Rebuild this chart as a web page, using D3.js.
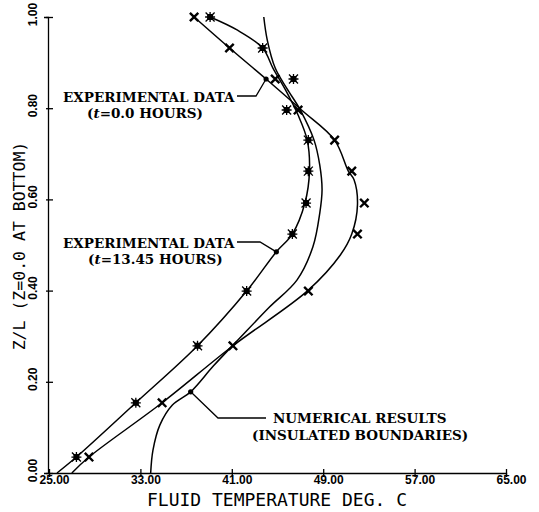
<!DOCTYPE html>
<html>
<head>
<meta charset="utf-8">
<script src="https://cdn.jsdelivr.net/npm/d3@7"></script>
<style>
  html, body { margin: 0; padding: 0; background: #fff; }
  .ann { font-family: "DejaVu Serif", "Liberation Serif", serif; font-weight: bold; font-size: 13.5px; }
  .tick text { font-family: "Liberation Sans", Arial, sans-serif; font-weight: bold; font-size: 12px; }
  .title { font-family: "DejaVu Sans Mono", monospace; }
</style>
</head>
<body>
<svg id="chart" width="539" height="512"></svg>
<script>
// axis ticks
const xTicks = [25, 33, 41, 49, 57, 65];
const yTicks = [0, 0.2, 0.4, 0.6, 0.8, 1.0];

// sensor heights (Z/L) of the measured points
const zLevels = [0.035, 0.154, 0.279, 0.399, 0.524, 0.592, 0.662, 0.730, 0.796, 0.864, 0.932, 1.0];
// measured temperatures, t = 0.0 hours (x markers)
const temp0 = [28.5, 34.9, 41.1, 47.7, 52.0, 52.6, 51.5, 50.0, 46.8, 44.8, 40.8, 37.7];
// measured temperatures, t = 13.45 hours (star markers)
const temp13 = [27.4, 32.6, 38.0, 42.3, 46.3, 47.5, 47.7, 47.7, 45.8, 46.4, 43.7, 39.1];

// smooth curves drawn through the data: [temp, z]
const fit0 = [[27.0, 0], [28.5, 0.035], [34.9, 0.154], [41.1, 0.279], [47.7, 0.401], [50.5, 0.478],
  [51.5, 0.524], [52.0, 0.588], [51.7, 0.643], [51.2, 0.662], [50.0, 0.730], [47.1, 0.796],
  [44.0, 0.864], [40.8, 0.932], [37.7, 1.0]];
const fit13 = [[25.7, 0], [27.4, 0.035], [32.6, 0.154], [38.0, 0.279], [42.3, 0.399], [44.9, 0.485],
  [46.3, 0.524], [47.4, 0.592], [47.8, 0.662], [47.6, 0.730], [46.8, 0.785], [45.7, 0.840],
  [44.6, 0.888], [43.7, 0.932], [41.5, 0.971], [39.1, 1.0]];
const numerical = [[33.9, 0], [34.1, 0.05], [34.7, 0.105], [35.8, 0.149], [37.4, 0.178], [39.4, 0.235],
  [41.7, 0.296], [44.3, 0.364], [46.7, 0.423], [48.1, 0.496], [48.7, 0.570], [48.9, 0.621],
  [48.7, 0.675], [48.2, 0.730], [47.0, 0.796], [45.8, 0.844], [44.8, 0.888], [44.1, 0.950], [43.8, 1.0]];

const svg = d3.select('#chart');
const x = d3.scaleLinear().domain([25, 65]).range([49, 506]);
const y = d3.scaleLinear().domain([0, 1]).range([473, 17]);

// axes
const xAxis = svg.append('g')
  .attr('transform', `translate(0,${y(0)})`)
  .call(d3.axisBottom(x).tickValues(xTicks).tickSizeOuter(0).tickSize(4).tickFormat(d3.format('.2f')));
xAxis.selectAll('.tick line').attr('y1', -4).attr('y2', 4);
xAxis.selectAll('.tick text').attr('dy', null).attr('y', 11).attr('dx', 5);

const yAxis = svg.append('g')
  .attr('transform', `translate(${x(25) - 1},0)`)
  .call(d3.axisLeft(y).tickValues(yTicks).tickSizeOuter(0).tickSize(4).tickFormat(d3.format('.2f')));
yAxis.selectAll('.tick line').attr('x1', -2).attr('x2', 5);
yAxis.selectAll('.tick text')
  .attr('x', null).attr('dy', null)
  .attr('text-anchor', 'middle')
  .attr('transform', 'translate(-11,-3) rotate(-90)');
svg.selectAll('.domain, .tick line').attr('stroke', '#000').attr('stroke-width', 1.3);
svg.selectAll('.tick text').attr('fill', '#000');

// axis titles
svg.append('text').attr('class', 'title')
  .attr('x', 277).attr('y', 506).attr('text-anchor', 'middle').attr('font-size', 18)
  .text('FLUID TEMPERATURE DEG. C');
svg.append('text').attr('class', 'title')
  .attr('transform', 'translate(25,246) rotate(-90)').attr('text-anchor', 'middle').attr('font-size', 16.5)
  .text('Z/L (Z=0.0 AT BOTTOM)');

// curves
const line = d3.line().x(d => x(d[0])).y(d => y(d[1])).curve(d3.curveCatmullRom.alpha(0.5));
[fit0, fit13, numerical].forEach(c => {
  svg.append('path').datum(c).attr('d', line)
    .attr('fill', 'none').attr('stroke', '#000').attr('stroke-width', 1.5);
});

// markers
const timesPath = s => `M${-s},${-s}L${s},${s}M${-s},${s}L${s},${-s}`;
svg.append('g').selectAll('path').data(zLevels.map((z, i) => [temp0[i], z])).join('path')
  .attr('transform', d => `translate(${x(d[0])},${y(d[1])})`)
  .attr('d', timesPath(4.2)).attr('stroke', '#000').attr('stroke-width', 2.4).attr('fill', 'none');

const star = svg.append('g').selectAll('g').data(zLevels.map((z, i) => [temp13[i], z])).join('g')
  .attr('transform', d => `translate(${x(d[0])},${y(d[1])})`);
star.append('rect').attr('x', -3).attr('y', -3).attr('width', 6).attr('height', 6).attr('fill', '#000');
star.append('path').attr('d', timesPath(4.5) + 'M-5,0L5,0M0,-5L0,5')
  .attr('stroke', '#000').attr('stroke-width', 1.3);

// annotations
function annotate(lines, target, elbow, end) {
  const g = svg.append('g');
  lines.forEach(l => {
    const t = g.append('text').attr('class', 'ann').attr('x', l.x).attr('y', l.y);
    l.parts.forEach(p => t.append('tspan').attr('font-style', p.i ? 'italic' : null).text(p.s));
  });
  const tx = x(target[0]), ty = y(target[1]);
  g.append('path').attr('d', `M${end[0]},${end[1]}L${elbow[0]},${elbow[1]}L${tx},${ty}`)
    .attr('fill', 'none').attr('stroke', '#000').attr('stroke-width', 1.3);
  g.append('circle').attr('cx', tx).attr('cy', ty).attr('r', 2.6).attr('fill', '#000');
}

annotate([
  { x: 63, y: 102, parts: [{ s: 'EXPERIMENTAL DATA' }] },
  { x: 87, y: 118, parts: [{ s: '(' }, { s: 't', i: true }, { s: '=0.0 HOURS)' }] }
], [44.0, 0.864], [256, 96], [237, 96]);

annotate([
  { x: 63, y: 248, parts: [{ s: 'EXPERIMENTAL DATA' }] },
  { x: 88, y: 264, parts: [{ s: '(' }, { s: 't', i: true }, { s: '=13.45 HOURS)' }] }
], [44.9, 0.485], [260, 242], [237, 242]);

annotate([
  { x: 273, y: 423, parts: [{ s: 'NUMERICAL RESULTS' }] },
  { x: 252, y: 440, parts: [{ s: '(INSULATED BOUNDARIES)' }] }
], [37.4, 0.178], [218, 418], [266, 418]);
</script>
</body>
</html>
